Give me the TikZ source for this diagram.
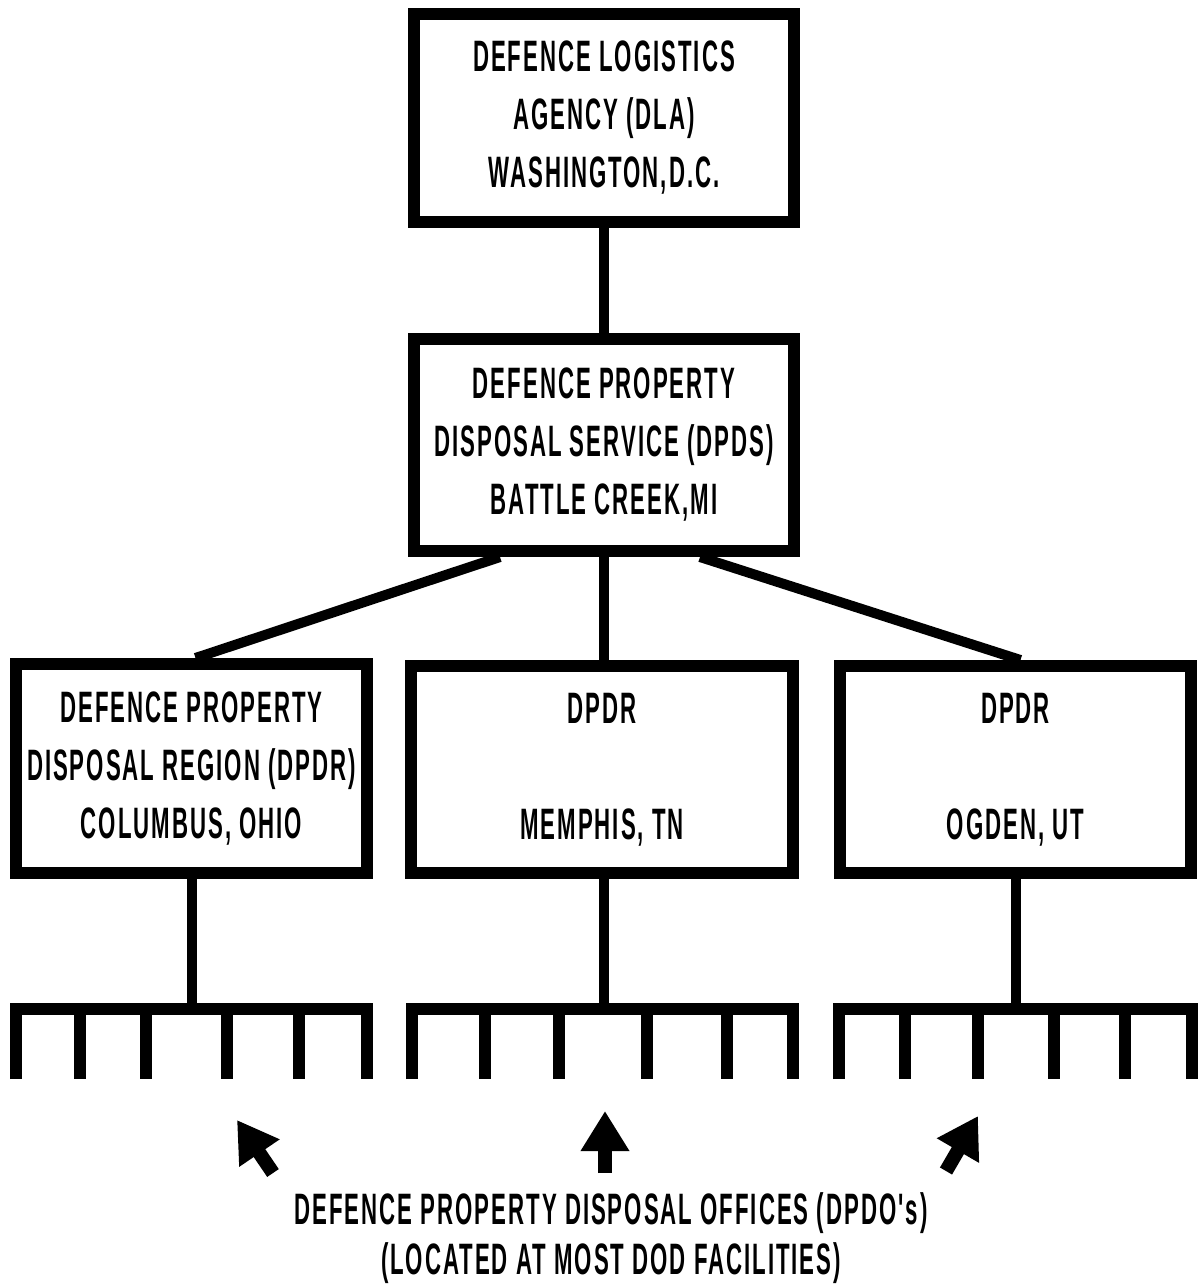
\documentclass[tikz,border=0pt]{standalone}
\usepackage{fontspec}
\newfontfamily\condfont{Liberation Sans}[FakeStretch=0.505,LetterSpace=4.5]
\usetikzlibrary{arrows.meta,calc}
\begin{document}
\begin{tikzpicture}[x=0.5pt,y=-0.5pt,
  txt/.style={font=\condfont\bfseries\fontsize{22}{29}\selectfont},
  orgbox/.style={draw, line width=6pt, inner sep=0pt, align=center, txt},
  link/.style={line width=5pt},
  comb/.style={line width=6pt},
  note/.style={txt, inner sep=0pt},
  uparrow/.style={line width=7pt, -{Triangle[length=20pt,width=23pt]}}
]
\useasboundingbox[fill=white] (0,0) rectangle (1200,1286);

\node[orgbox, minimum width=190pt, minimum height=104pt] (dla) at (604,118)
  {DEFENCE LOGISTICS\\AGENCY (DLA)\\WASHINGTON,D.C.};
\node[orgbox, minimum width=190pt, minimum height=106pt] (dpds) at (604,445)
  {DEFENCE PROPERTY\\DISPOSAL SERVICE (DPDS)\\BATTLE CREEK,MI};
\node[orgbox, minimum width=175.5pt, minimum height=104.5pt] (col) at (191.5,768.5)
  {DEFENCE PROPERTY\\DISPOSAL REGION (DPDR)\\COLUMBUS, OHIO};
\node[orgbox, minimum width=191pt, minimum height=103.5pt] (mem) at (602,769.5)
  {DPDR\\[29pt]MEMPHIS, TN};
\node[orgbox, minimum width=175.5pt, minimum height=103.5pt] (ogd) at (1015.5,769.5)
  {DPDR\\[29pt]OGDEN, UT};

% connectors between boxes
\draw[link] (dla.south) -- (dpds.north);
\draw[link] ($(dpds.south)+(-104,0)$) -- ($(col.north)+(4,0)$);
\draw[link] (dpds.south) -- (mem.north -| dpds.south);
\draw[link] ($(dpds.south)+(96,0)$) -- ($(ogd.north)+(5,0)$);

% stems down to the combs
\coordinate (cb1) at (192,1009);
\coordinate (cb2) at (604,1009);
\coordinate (cb3) at (1016,1009);
\draw[link] (col.south -| cb1) -- (cb1);
\draw[link] (mem.south -| cb2) -- (cb2);
\draw[link] (ogd.south -| cb3) -- (cb3);

% combs of offices
\draw[comb] (16,1079) -- (16,1009) -- (367,1009) -- (367,1079);
\foreach \x in {80,146,227,299} \draw[comb] (\x,1009) -- (\x,1079);
\draw[comb] (412,1079) -- (412,1009) -- (793,1009) -- (793,1079);
\foreach \x in {485,559,647,727} \draw[comb] (\x,1009) -- (\x,1079);
\draw[comb] (839,1079) -- (839,1009) -- (1192,1009) -- (1192,1079);
\foreach \x in {905,978,1054,1125} \draw[comb] (\x,1009) -- (\x,1079);

% arrows
\coordinate (t1) at (273,1173); \coordinate (h1) at (237,1120);
\coordinate (t2) at (605,1173); \coordinate (h2) at (605,1111);
\coordinate (t3) at (946,1171); \coordinate (h3) at (978,1116);
\draw[uparrow] (t1) -- (h1);
\draw[uparrow] (t2) -- (h2);
\draw[uparrow] (t3) -- (h3);

\node[note] (lab1) at (611,1213) {DEFENCE PROPERTY DISPOSAL OFFICES (DPDO's)};
\node[note] (lab2) at (611,1263) {(LOCATED AT MOST DOD FACILITIES)};
\end{tikzpicture}
\end{document}
